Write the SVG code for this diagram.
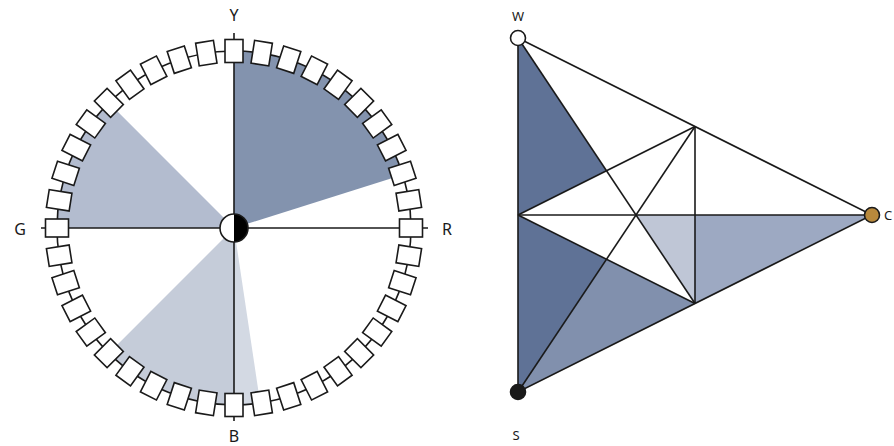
<svg xmlns="http://www.w3.org/2000/svg" width="894" height="446" viewBox="0 0 894 446">
<defs>
<style>
.ln{stroke:#1a1a1a;stroke-width:1.6;fill:none}
.tick{fill:#fff;stroke:#1a1a1a;stroke-width:1.6}
.lbl{font-family:"Noto Sans","Open Sans",sans-serif;fill:#1a1a1a;text-anchor:middle;dominant-baseline:central}
.big{font-size:16px}
.sm{font-size:13px}
</style>
<rect id="t" x="225" y="39.5" width="18" height="23"/>
</defs>
<rect width="894" height="446" fill="#fff"/>
<g id="wheel">
<path d="M234,228 L234,51 A177,177 0 0 1 402.8,174.8 Z" fill="#8393ae"/>
<path d="M234,228 L57,228 A177,177 0 0 1 108.8,102.8 Z" fill="#b3bccf"/>
<path d="M234,228 L234,405 A177,177 0 0 1 108.8,353.2 Z" fill="#c5ccd9"/>
<path d="M234,228 L260.2,403.1 A177,177 0 0 1 234,405 Z" fill="#d3d9e3"/>
<circle cx="234" cy="228" r="177" class="ln"/>
<line x1="234" y1="33" x2="234" y2="421" class="ln"/>
<line x1="41" y1="228" x2="428" y2="228" class="ln"/>
<g class="tick">
<use href="#t" transform="rotate(0 234 228)"/><use href="#t" transform="rotate(9 234 228)"/><use href="#t" transform="rotate(18 234 228)"/><use href="#t" transform="rotate(27 234 228)"/><use href="#t" transform="rotate(36 234 228)"/><use href="#t" transform="rotate(45 234 228)"/><use href="#t" transform="rotate(54 234 228)"/><use href="#t" transform="rotate(63 234 228)"/><use href="#t" transform="rotate(72 234 228)"/><use href="#t" transform="rotate(81 234 228)"/>
<use href="#t" transform="rotate(90 234 228)"/><use href="#t" transform="rotate(99 234 228)"/><use href="#t" transform="rotate(108 234 228)"/><use href="#t" transform="rotate(117 234 228)"/><use href="#t" transform="rotate(126 234 228)"/><use href="#t" transform="rotate(135 234 228)"/><use href="#t" transform="rotate(144 234 228)"/><use href="#t" transform="rotate(153 234 228)"/><use href="#t" transform="rotate(162 234 228)"/><use href="#t" transform="rotate(171 234 228)"/>
<use href="#t" transform="rotate(180 234 228)"/><use href="#t" transform="rotate(189 234 228)"/><use href="#t" transform="rotate(198 234 228)"/><use href="#t" transform="rotate(207 234 228)"/><use href="#t" transform="rotate(216 234 228)"/><use href="#t" transform="rotate(225 234 228)"/><use href="#t" transform="rotate(234 234 228)"/><use href="#t" transform="rotate(243 234 228)"/><use href="#t" transform="rotate(252 234 228)"/><use href="#t" transform="rotate(261 234 228)"/>
<use href="#t" transform="rotate(270 234 228)"/><use href="#t" transform="rotate(279 234 228)"/><use href="#t" transform="rotate(288 234 228)"/><use href="#t" transform="rotate(297 234 228)"/><use href="#t" transform="rotate(306 234 228)"/><use href="#t" transform="rotate(315 234 228)"/><use href="#t" transform="rotate(324 234 228)"/><use href="#t" transform="rotate(333 234 228)"/><use href="#t" transform="rotate(342 234 228)"/><use href="#t" transform="rotate(351 234 228)"/>
</g>
<g id="center">
<circle cx="234" cy="228" r="14" fill="#fff"/>
<path d="M234,214 A14,14 0 0 1 234,242 Z" fill="#000"/>
<circle cx="234" cy="228" r="14" class="ln"/>
</g>
<text class="lbl big" x="234" y="15">Y</text>
<text class="lbl big" x="20" y="229">G</text>
<text class="lbl big" x="447" y="229">R</text>
<text class="lbl big" x="234" y="436">B</text>
</g>
<g id="triangle">
<polygon points="518,38 606.5,170.75 518,215" fill="#5f7296"/>
<polygon points="518,215 606.5,259.25 518,392" fill="#5f7296"/>
<polygon points="518,392 606.5,259.25 695,303.5" fill="#8190ad"/>
<polygon points="636,215 695,215 695,303.5" fill="#bfc6d6"/>
<polygon points="695,215 872,215 695,303.5" fill="#9da9c2"/>
</g>
<g id="connectors" class="ln">
<polygon points="518,38 872,215 518,392"/>
<line x1="518" y1="38" x2="695" y2="303.5"/>
<line x1="518" y1="392" x2="695" y2="126.5"/>
<line x1="518" y1="215" x2="872" y2="215"/>
<line x1="695" y1="126.5" x2="695" y2="303.5"/>
<line x1="518" y1="215" x2="695" y2="126.5"/>
<line x1="518" y1="215" x2="695" y2="303.5"/>
</g>
<g id="W"><circle cx="518" cy="38" r="7.5" fill="#fff" stroke="#1a1a1a" stroke-width="1.6"/><text class="lbl sm" x="518" y="16">W</text></g>
<g id="S"><circle cx="518" cy="392" r="7.5" fill="#1a1a1a" stroke="#1a1a1a" stroke-width="1.6"/><text class="lbl sm" x="516" y="435">S</text></g>
<g id="C"><circle cx="872" cy="215" r="7.5" fill="#b8893c" stroke="#1a1a1a" stroke-width="1.6"/><text class="lbl sm" x="888" y="215">C</text></g>
</svg>
